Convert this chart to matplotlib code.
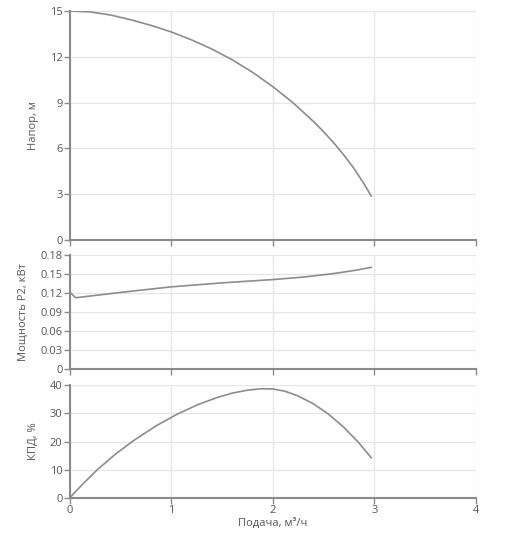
import numpy as np
import matplotlib
matplotlib.use("Agg")
import matplotlib.pyplot as plt
from matplotlib.ticker import FuncFormatter

plt.rcParams['font.family'] = ['Open Sans', 'DejaVu Sans']

# ---- curve data ----
q_head = [0, 0.2, 0.4, 0.6, 0.8, 1.0, 1.2, 1.4, 1.6, 1.8, 2.0, 2.2, 2.4, 2.5, 2.6, 2.7, 2.8, 2.9, 2.97]
head = [15.0, 14.94, 14.74, 14.43, 14.06, 13.63, 13.11, 12.51, 11.81, 10.99, 10.05, 8.99,
        7.77, 7.10, 6.37, 5.57, 4.69, 3.67, 2.88]

q_power = [0, 0.06, 0.5, 1.0, 1.5, 2.0, 2.3, 2.58, 2.8, 2.97]
power = [0.1215, 0.1122, 0.1206, 0.1294, 0.1357, 0.1409, 0.1448, 0.1500, 0.1552, 0.1602]

q_eff = [0, 0.13, 0.27, 0.45, 0.63, 0.85, 1.06, 1.27, 1.45, 1.6, 1.75, 1.89, 2.0,
         2.12, 2.25, 2.4, 2.55, 2.7, 2.84, 2.97]
eff = [0, 4.94, 9.91, 15.49, 20.35, 25.52, 29.72, 33.19, 35.57, 37.15, 38.2, 38.73, 38.64,
       37.86, 36.17, 33.4, 29.72, 25.07, 19.89, 14.3]

x_ticks = [0, 1, 2, 3, 4]
head_ticks = [0, 3, 6, 9, 12, 15]
power_ticks = [0, 0.03, 0.06, 0.09, 0.12, 0.15, 0.18]
eff_ticks = [0, 10, 20, 30, 40]

LINE = "#8c8c8c"
GRID = "#e6e6e6"
AXIS = "#8a8a8a"
TEXT = "#555555"

fig = plt.figure(figsize=(5.15, 5.48), dpi=100)
left, width = 0.135, 0.789
ax1 = fig.add_axes([left, 0.562, width, 0.418])
ax2 = fig.add_axes([left, 0.327, width, 0.208])
ax3 = fig.add_axes([left, 0.0912, width, 0.206])


def fmt(v, pos):
    if v == 0:
        return "0"
    return f"{v:g}" if v >= 1 else f"{v:.2f}"


def style(ax, yticks, ylabel, show_x):
    ax.set_xlim(0, 4)
    ax.set_ylim(yticks[0], yticks[-1])
    ax.set_xticks(x_ticks)
    ax.set_yticks(yticks)
    ax.yaxis.set_major_formatter(FuncFormatter(fmt))
    ax.grid(True, color=GRID, lw=1)
    ax.set_axisbelow(True)
    for s in ["top", "right"]:
        ax.spines[s].set_visible(False)
    for s in ["left", "bottom"]:
        ax.spines[s].set_color(AXIS)
        ax.spines[s].set_linewidth(1.5)
    ax.tick_params(colors=AXIS, labelcolor=TEXT, labelsize=8, length=4, width=1, pad=1)
    if not show_x:
        ax.tick_params(axis="x", labelbottom=False)
    ax.set_ylabel(ylabel, fontsize=8, color=TEXT, labelpad=8)


ax1.plot(q_head, head, color=LINE, lw=1.2, solid_joinstyle="round")
style(ax1, head_ticks, "Напор, м", False)

ax2.plot(q_power, power, color=LINE, lw=1.2, solid_joinstyle="round")
style(ax2, power_ticks, "Мощность Р2, кВт", False)

ax3.plot(q_eff, eff, color=LINE, lw=1.2, solid_joinstyle="round")
style(ax3, eff_ticks, "КПД, %", True)
ax3.set_xlabel("Подача, м³/ч", fontsize=8, color=TEXT, labelpad=1)

plt.savefig("out.png", dpi=100)
